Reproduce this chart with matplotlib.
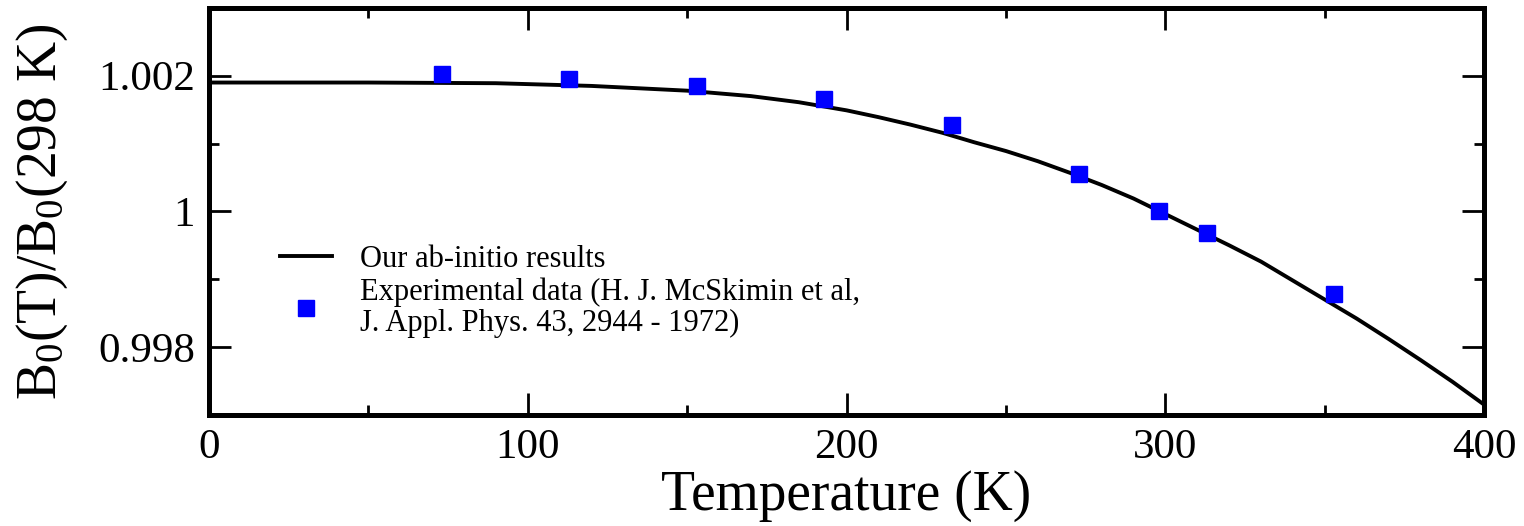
import matplotlib
matplotlib.use("Agg")
import matplotlib.pyplot as plt
from matplotlib.ticker import MultipleLocator, FuncFormatter

plt.rcParams['font.family'] = ['Liberation Serif', 'DejaVu Serif']
plt.rcParams['mathtext.default'] = 'regular'

# ab-initio curve
temp_calc = [0, 50, 90, 120, 150, 170, 185, 200, 210, 220, 230, 240, 250, 260, 270,
             280, 290, 300, 310, 320, 330, 340, 350, 360, 370, 380, 390, 400]
ratio_calc = [1.00190, 1.00190, 1.00189, 1.00185, 1.00178, 1.00170, 1.00161, 1.00149,
              1.00139, 1.00128, 1.00116, 1.00102, 1.00089, 1.00074, 1.00057, 1.00039,
              1.00019, 0.99996, 0.99973, 0.99950, 0.99926, 0.99898, 0.99870, 0.99842,
              0.99812, 0.99781, 0.99749, 0.99715]

# experimental points
temp_exp = [73, 113, 153, 193, 233, 273, 298, 313, 353]
ratio_exp = [1.00202, 1.00195, 1.00185, 1.00166, 1.00127, 1.00055, 1.00000, 0.99968, 0.99878]

fig = plt.figure(figsize=(15.24, 5.26), dpi=100)
ax = fig.add_axes([0.137, 0.211, 0.837, 0.774])

ax.plot(temp_calc, ratio_calc, color='black', lw=2.8, label='Our ab-initio results')
ax.plot(temp_exp, ratio_exp, ls='none', marker='s', ms=11, color='blue', mec='blue',
        label='Experimental data (H. J. McSkimin et al,\nJ. Appl. Phys. 43, 2944 - 1972)')

ax.set_xlim(0, 400)
ax.set_ylim(0.997, 1.003)
ax.xaxis.set_major_locator(MultipleLocator(100))
ax.xaxis.set_minor_locator(MultipleLocator(50))
ax.yaxis.set_major_locator(MultipleLocator(0.002))
ax.yaxis.set_minor_locator(MultipleLocator(0.001))
ax.yaxis.set_major_formatter(FuncFormatter(lambda v, p: '%g' % round(v, 6)))

ax.tick_params(which='both', direction='in', top=True, right=True, width=2, labelsize=31)
ax.tick_params(which='major', length=16, pad=10)
ax.tick_params(which='minor', length=7)
for s in ax.spines.values():
    s.set_linewidth(3.6)

ax.set_xlabel('Temperature (K)', fontsize=40, labelpad=2)
ax.set_ylabel('B$_0$(T)/B$_0$(298 K)', fontsize=40, labelpad=20)

leg = ax.legend(loc='upper left', bbox_to_anchor=(0.044, 0.455), frameon=False, fontsize=22,
                handlelength=1.7, handletextpad=0.9, labelspacing=0.12, borderpad=0)
for t in leg.get_texts():
    t.set_linespacing(1.08)

fig.savefig('out.png', dpi=100)
